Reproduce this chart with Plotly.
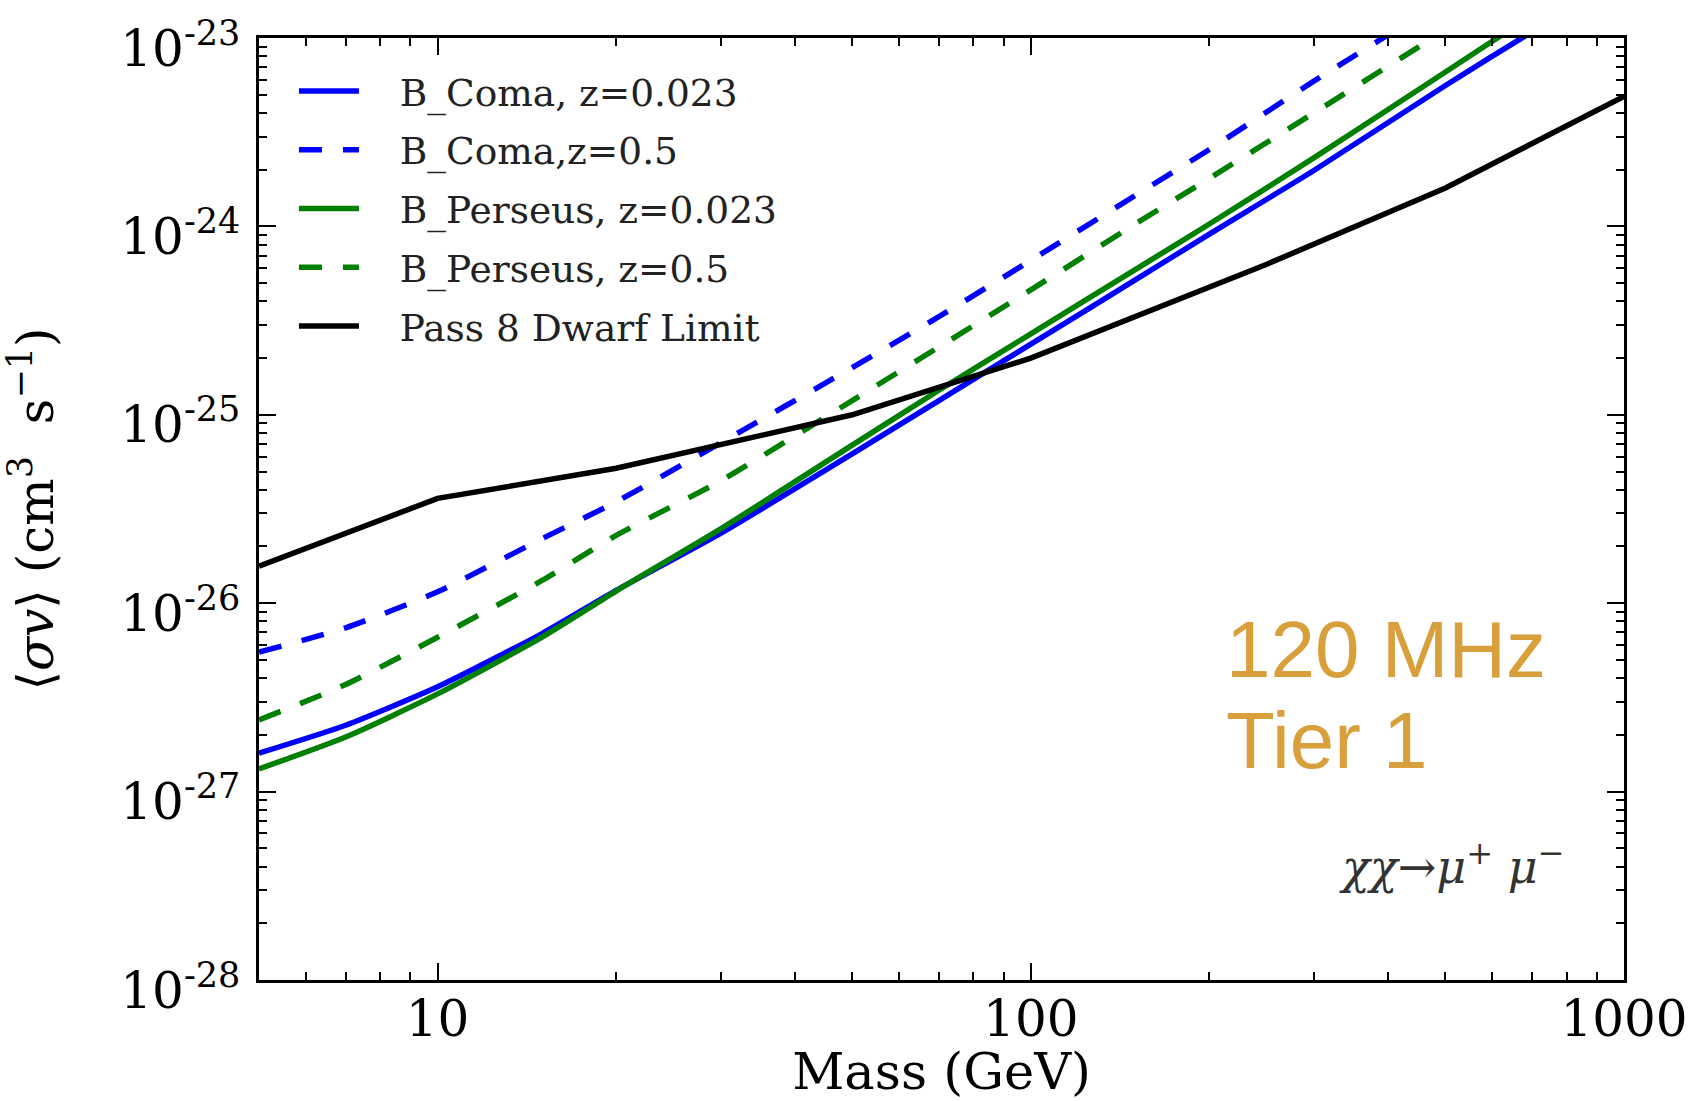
import plotly.graph_objects as go

# ---------------- data ----------------
mass = [5, 7, 10, 15, 20, 30, 50, 70, 100, 150, 200, 300, 500, 700, 1000]

coma_z0023 = [1.6e-27, 2.25e-27, 3.6e-27, 6.9e-27, 1.17e-26, 2.35e-26, 6.2e-26, 1.19e-25,
              2.37e-25, 5.2e-25, 9.1e-25, 1.98e-24, 5.6e-24, 1.08e-23, 2.1e-23]
coma_z05 = [5.5e-27, 7.4e-27, 1.15e-26, 2.2e-26, 3.45e-26, 7.1e-26, 1.78e-25, 3.32e-25,
            6.6e-25, 1.46e-24, 2.56e-24, 5.9e-24, 1.6e-23, 3.0e-23, 6.0e-23]
perseus_z0023 = [1.32e-27, 1.95e-27, 3.3e-27, 6.6e-27, 1.16e-26, 2.48e-26, 6.9e-26, 1.35e-25,
                 2.69e-25, 5.9e-25, 1.03e-24, 2.31e-24, 6.6e-24, 1.32e-23, 2.7e-23]
perseus_z05 = [2.4e-27, 3.7e-27, 6.6e-27, 1.32e-26, 2.29e-26, 4.46e-26, 1.19e-25, 2.29e-25,
               4.6e-25, 1.03e-24, 1.8e-24, 4.0e-24, 1.1e-23, 2.1e-23, 4.3e-23]

dwarf_mass = [5, 10, 20, 50, 100, 250, 500, 1000]
dwarf_limit = [1.57e-26, 3.6e-26, 5.2e-26, 1.0e-25, 2.0e-25, 6.3e-25, 1.6e-24, 4.9e-24]

series_names = ["B_Coma, z=0.023", "B_Coma,z=0.5", "B_Perseus, z=0.023",
                "B_Perseus, z=0.5", "Pass 8 Dwarf Limit"]

x_tickvals = [10, 100, 1000]
x_ticktext = ["10", "100", "1000"]
x_minor = [6, 7, 8, 9, 20, 30, 40, 50, 60, 70, 80, 90, 200, 300, 400, 500, 600, 700, 800, 900]
y_tickvals = [1e-28, 1e-27, 1e-26, 1e-25, 1e-24, 1e-23]
y_ticktext = ["10<sup>-28</sup>", "10<sup>-27</sup>", "10<sup>-26</sup>",
              "10<sup>-25</sup>", "10<sup>-24</sup>", "10<sup>-23</sup>"]
y_minor = [m * 10.0 ** e for e in range(-28, -23) for m in range(2, 10)]

# ---------------- styles ----------------
BLUE = "#0000FF"
GREEN = "#008000"
BLACK = "#000000"
LW = 5.5
DASH = "23px,21px"
SERIF = "DejaVu Serif"
NBSP = "\u00a0\u00a0\u00a0"

fig = go.Figure()
specs = [
    (mass, coma_z0023, BLUE, "solid", "spline"),
    (mass, coma_z05, BLUE, DASH, "spline"),
    (mass, perseus_z0023, GREEN, "solid", "spline"),
    (mass, perseus_z05, GREEN, DASH, "spline"),
    (dwarf_mass, dwarf_limit, BLACK, "solid", "linear"),
]
for i, (xs, ys, col, dash, shape) in enumerate(specs):
    fig.add_trace(go.Scatter(
        x=xs, y=ys, mode="lines", name=NBSP + series_names[i],
        legendgroup=f"g{i}",
        line=dict(color=col, width=LW, dash=dash, shape=shape, smoothing=0.6),
    ))

axis_common = dict(
    type="log", showgrid=False, zeroline=False, automargin=False,
    showline=True, linecolor="black", linewidth=2.5, mirror="allticks",
    ticks="inside", ticklen=17, tickwidth=2, tickcolor="black",
    ticklabeloverflow="allow",
    tickfont=dict(family=SERIF, size=50, color="black"),
)

fig.update_layout(
    width=1707, height=1101,
    margin=dict(l=259, r=83, t=38, b=121),
    paper_bgcolor="white", plot_bgcolor="white",
    showlegend=True,
    legend=dict(
        x=0.0256, y=0.9766, xanchor="left", yanchor="top",
        bgcolor="rgba(0,0,0,0)", borderwidth=0,
        font=dict(family=SERIF, size=37.5, color="#222222"),
        tracegroupgap=7, itemwidth=60,
    ),
    xaxis=dict(
        **axis_common,
        range=[0.69897, 3.0],
        tickmode="array", tickvals=x_tickvals, ticktext=x_ticktext,
        ticklabelstandoff=-7,
        minor=dict(tickmode="array", tickvals=x_minor, ticks="inside",
                   ticklen=8, tickwidth=1.5, tickcolor="black", showgrid=False),
        title=dict(text="Mass (GeV)", font=dict(family=SERIF, size=51, color="black"),
                   standoff=28),
    ),
    yaxis=dict(
        **axis_common,
        range=[-28, -23],
        tickmode="array", tickvals=y_tickvals, ticktext=y_ticktext,
        ticklabelstandoff=6, ticklabelshift=10,
        minor=dict(tickmode="array", tickvals=y_minor, ticks="inside",
                   ticklen=8, tickwidth=1.5, tickcolor="black", showgrid=False),
        title=dict(text="⟨<i>σv</i>⟩ (cm<sup>3</sup>  s<sup>−1</sup>)",
                   font=dict(family=SERIF, size=50, color="black"),
                   standoff=51),
    ),
    annotations=[
        dict(text="120 MHz", xref="paper", yref="paper", x=0.707, y=0.351,
             xanchor="left", yanchor="middle", showarrow=False,
             font=dict(family="Liberation Sans", size=80, color="#D89F3B")),
        dict(text="Tier 1", xref="paper", yref="paper", x=0.707, y=0.2545,
             xanchor="left", yanchor="middle", showarrow=False,
             font=dict(family="Liberation Sans", size=80, color="#D89F3B")),
        dict(text="<i>χχ</i>→<i>μ</i><sup>+</sup> <i>μ</i><sup>−</sup>",
             xref="paper", yref="paper", x=0.958, y=0.123,
             xanchor="right", yanchor="middle", showarrow=False,
             font=dict(family=SERIF, size=46, color="#333333")),
    ],
)

fig.write_html(
    "out.html",
    config={"displayModeBar": False},
    post_script="document.body.style.margin='0';document.body.style.overflow='hidden';",
)
